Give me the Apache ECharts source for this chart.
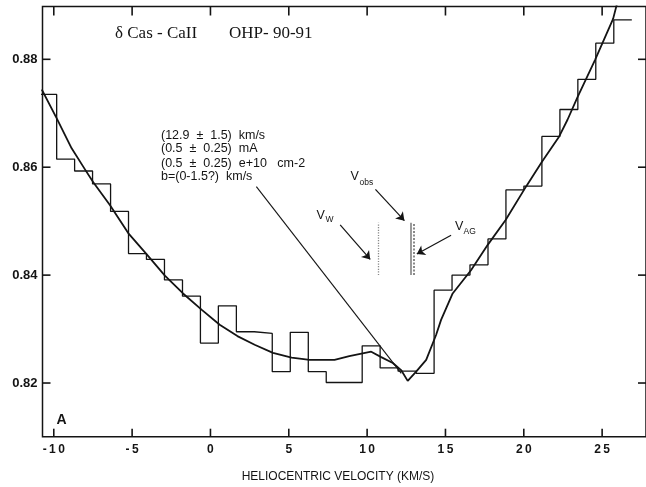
<!DOCTYPE html>
<html>
<head>
<meta charset="utf-8">
<script src="https://cdn.jsdelivr.net/npm/echarts@6/dist/echarts.min.js"></script>
<style>
  html, body { margin: 0; padding: 0; background: #fff; }
  #chart { width: 646px; height: 487px; }
</style>
</head>
<body>
<div id="chart"></div>
<script>
// delta Cas, Ca II interstellar line (OHP 1990-91): binned residual flux and fitted profile

// binned spectrum: bin centres (km/s) and residual flux
const binVelocity = [-10.39, -9.24, -8.10, -6.95, -5.80, -4.66, -3.51, -2.36, -1.21, -0.07,
  1.08, 2.23, 3.37, 4.52, 5.67, 6.82, 7.96, 9.11, 10.26, 11.40, 12.55, 13.70, 14.85,
  15.99, 17.14, 18.29, 19.43, 20.58, 21.73, 22.88, 24.02, 25.17, 26.32];
const binFlux = [0.8735, 0.8615, 0.8593, 0.8569, 0.8518, 0.8440, 0.8429, 0.8391, 0.8361, 0.8274,
  0.8343, 0.8295, 0.8292, 0.8221, 0.8294, 0.8221, 0.8201, 0.8201, 0.8269, 0.8228, 0.8222,
  0.8218, 0.8372, 0.8400, 0.8419, 0.8467, 0.8558, 0.8565, 0.8657, 0.8707, 0.8763, 0.8830, 0.8873];

// fitted absorption profile
const fitVelocity = [-10.77, -9.82, -8.86, -8.01, -7.48, -6.42, -5.25, -4.08, -2.91, -1.75,
  -0.57, 0.59, 1.72, 2.82, 3.99, 5.18, 6.33, 7.92, 8.86, 10.26, 10.90, 11.64, 12.17, 12.59,
  13.13, 13.77, 14.40, 14.72, 15.46, 16.63, 17.72, 18.84, 20.14, 21.16, 22.26, 22.79, 23.43,
  24.55, 25.70, 26.10];
const fitFlux = [0.8744, 0.8691, 0.8635, 0.8596, 0.8572, 0.8530, 0.8478, 0.8439, 0.8399, 0.8366,
  0.8336, 0.8308, 0.8287, 0.8271, 0.8256, 0.8247, 0.8243, 0.8243, 0.8250, 0.8258, 0.8248,
  0.8237, 0.8224, 0.8204, 0.8221, 0.8243, 0.8289, 0.8317, 0.8366, 0.8409, 0.8457, 0.8502,
  0.8564, 0.8610, 0.8657, 0.8688, 0.8730, 0.8799, 0.8875, 0.8920];

// tick values
const xTicks = [-10, -5, 0, 5, 10, 15, 20, 25];
const yTicks = [0.82, 0.84, 0.86, 0.88];

// fit parameters
const fitParams = ['(12.9  ±  1.5)  km/s', '(0.5  ±  0.25)  mA', '(0.5  ±  0.25)  e+10   cm-2', 'b=(0-1.5?)  km/s'];

// reference velocities (km/s): wind, observed, and the marker extent in flux
const velWind = 10.68;
const velObs = 12.76;
const velAG = 12.97;
const markerFlux = [0.8400, 0.8497];

// pointer from the parameter block to the line centre
const leader = [[2.93, 0.8564], [12.18, 0.8218]];
// label arrows [from, to]
const arrowObs = [[10.53, 0.8559], [12.38, 0.8501]];
const arrowWind = [[8.28, 0.8493], [10.20, 0.8429]];
const arrowAG = [[15.36, 0.8474], [13.17, 0.8439]];

// axis extents
const X_MIN = -10.72, X_MAX = 27.80;
const Y_MIN = 0.81005, Y_MAX = 0.88979;

// histogram outline: left edge of each bin, then the right edge of the last one
const histData = [];
for (let i = 0; i < binVelocity.length; i++) {
  const left = i === 0
    ? binVelocity[0] - (binVelocity[1] - binVelocity[0]) / 2
    : (binVelocity[i - 1] + binVelocity[i]) / 2;
  histData.push([left, binFlux[i]]);
}
const nb = binVelocity.length;
histData.push([binVelocity[nb - 1] + (binVelocity[nb - 1] - binVelocity[nb - 2]) / 2, binFlux[nb - 1]]);

const fitData = fitVelocity.map((v, i) => [v, fitFlux[i]]);

const INK = '#141414';
const SANS = '"Liberation Sans", Arial, sans-serif';
const near = (v, list) => list.some(t => Math.abs(v - t) < 1e-6);
const xLabel = v => near(v, xTicks) ? String(Math.round(v)).split('').join('\u2009') : '';
const yLabel = v => near(v, yTicks) ? v.toFixed(2) : '';
const tickPen = { stroke: INK, lineWidth: 1.6 };

// inward tick marks on all four sides of the frame
function xTickItem(params, api) {
  const cs = params.coordSys;
  const px = api.coord([api.value(0), api.value(1)])[0];
  const bottom = cs.y + cs.height;
  return {
    type: 'group',
    children: [
      { type: 'line', shape: { x1: px, y1: bottom, x2: px, y2: bottom - 8 }, style: tickPen },
      { type: 'line', shape: { x1: px, y1: cs.y, x2: px, y2: cs.y + 9 }, style: tickPen }
    ]
  };
}
function yTickItem(params, api) {
  const cs = params.coordSys;
  const py = api.coord([api.value(0), api.value(1)])[1];
  const right = cs.x + cs.width;
  return {
    type: 'group',
    children: [
      { type: 'line', shape: { x1: cs.x, y1: py, x2: cs.x + 8, y2: py }, style: tickPen },
      { type: 'line', shape: { x1: right - 8, y1: py, x2: right, y2: py }, style: tickPen }
    ]
  };
}

const chart = echarts.init(document.getElementById('chart'), null, { renderer: 'canvas' });

chart.setOption({
  animation: false,
  backgroundColor: '#fff',
  // the frame is the grid border; its right side falls just outside the canvas
  grid: { show: true, left: 42.5, right: -1, top: 6.5, bottom: 50.3, borderColor: INK, borderWidth: 1.5, backgroundColor: 'transparent' },
  xAxis: {
    type: 'value', min: X_MIN, max: X_MAX, minInterval: 5, maxInterval: 5,
    splitLine: { show: false },
    axisLine: { show: false },
    axisTick: { show: false },
    axisLabel: {
      show: true, formatter: xLabel, margin: 7, showMinLabel: false, showMaxLabel: false,
      fontFamily: SANS, fontSize: 12, fontWeight: 'bold', color: INK
    }
  },
  yAxis: {
    type: 'value', min: Y_MIN, max: Y_MAX, minInterval: 0.02, maxInterval: 0.02,
    splitLine: { show: false },
    axisLine: { show: false },
    axisTick: { show: false },
    axisLabel: {
      show: true, formatter: yLabel, margin: 5, showMinLabel: false, showMaxLabel: false,
      fontFamily: SANS, fontSize: 13, fontWeight: 'bold', color: INK
    }
  },
  series: [
    {
      name: 'x ticks', type: 'custom', coordinateSystem: 'cartesian2d', clip: false, silent: true,
      data: xTicks.map(v => [v, Y_MIN]), renderItem: xTickItem, z: 6
    },
    {
      name: 'y ticks', type: 'custom', coordinateSystem: 'cartesian2d', clip: false, silent: true,
      data: yTicks.map(v => [X_MIN, v]), renderItem: yTickItem, z: 6
    },
    {
      name: 'binned flux', type: 'line', step: 'end', data: histData,
      showSymbol: false, symbol: 'none', clip: true,
      lineStyle: { color: INK, width: 1.3 }, z: 3
    },
    {
      name: 'fit', type: 'line', data: fitData,
      showSymbol: false, symbol: 'none', clip: true,
      lineStyle: { color: INK, width: 1.8 }, z: 4
    },
    {
      name: 'leader', type: 'line', data: leader,
      showSymbol: false, symbol: 'none',
      lineStyle: { color: INK, width: 1.1 }, z: 4
    },
    {
      name: 'velocity markers', type: 'lines', coordinateSystem: 'cartesian2d',
      symbol: 'none', z: 5,
      data: [
        { coords: [[velWind, markerFlux[0]], [velWind, markerFlux[1]]], lineStyle: { color: INK, width: 1.3, type: [1.2, 1.4] } },
        { coords: [[velObs, markerFlux[0]], [velObs, markerFlux[1]]], lineStyle: { color: INK, width: 1.7, type: 'solid' } },
        { coords: [[velAG, markerFlux[0]], [velAG, markerFlux[1]]], lineStyle: { color: INK, width: 2.0, type: [2, 1.5] } }
      ]
    },
    {
      name: 'label arrows', type: 'lines', coordinateSystem: 'cartesian2d',
      symbol: ['none', 'arrow'], symbolSize: 8, z: 5,
      lineStyle: { color: INK, width: 1.2, opacity: 1 },
      data: [
        { coords: arrowObs },
        { coords: arrowWind },
        { coords: arrowAG }
      ]
    }
  ],
  graphic: [
    { type: 'text', x: 115, y: 34, style: { text: 'δ Cas - CaII', font: '17px "Liberation Serif", serif', fill: INK, align: 'left', verticalAlign: 'middle' } },
    { type: 'text', x: 229, y: 34, style: { text: 'OHP- 90-91', font: '17px "Liberation Serif", serif', fill: INK, align: 'left', verticalAlign: 'middle' } },
    { type: 'text', x: 161, y: 136, style: { text: fitParams[0], font: '12.5px ' + SANS, fill: INK, align: 'left', verticalAlign: 'middle' } },
    { type: 'text', x: 161, y: 148.5, style: { text: fitParams[1], font: '12.5px ' + SANS, fill: INK, align: 'left', verticalAlign: 'middle' } },
    { type: 'text', x: 161, y: 163.5, style: { text: fitParams[2], font: '12.5px ' + SANS, fill: INK, align: 'left', verticalAlign: 'middle' } },
    { type: 'text', x: 161, y: 177, style: { text: fitParams[3], font: '12.5px ' + SANS, fill: INK, align: 'left', verticalAlign: 'middle' } },
    { type: 'text', x: 350.5, y: 177, style: { text: 'V', font: '12.5px ' + SANS, fill: INK, align: 'left', verticalAlign: 'middle' } },
    { type: 'text', x: 359.5, y: 183, style: { text: 'obs', font: '8.5px ' + SANS, fill: INK, align: 'left', verticalAlign: 'middle' } },
    { type: 'text', x: 316.5, y: 216, style: { text: 'V', font: '12.5px ' + SANS, fill: INK, align: 'left', verticalAlign: 'middle' } },
    { type: 'text', x: 325.5, y: 220, style: { text: 'W', font: '8.5px ' + SANS, fill: INK, align: 'left', verticalAlign: 'middle' } },
    { type: 'text', x: 455, y: 227, style: { text: 'V', font: '12.5px ' + SANS, fill: INK, align: 'left', verticalAlign: 'middle' } },
    { type: 'text', x: 463.5, y: 232, style: { text: 'AG', font: '8.5px ' + SANS, fill: INK, align: 'left', verticalAlign: 'middle' } },
    { type: 'text', x: 56.5, y: 420, style: { text: 'A', font: 'bold 14px ' + SANS, fill: INK, align: 'left', verticalAlign: 'middle' } },
    { type: 'text', x: 338, y: 477, style: { text: 'HELIOCENTRIC VELOCITY (KM/S)', font: '12px ' + SANS, fill: INK, align: 'center', verticalAlign: 'middle' } }
  ]
});
</script>
</body>
</html>
